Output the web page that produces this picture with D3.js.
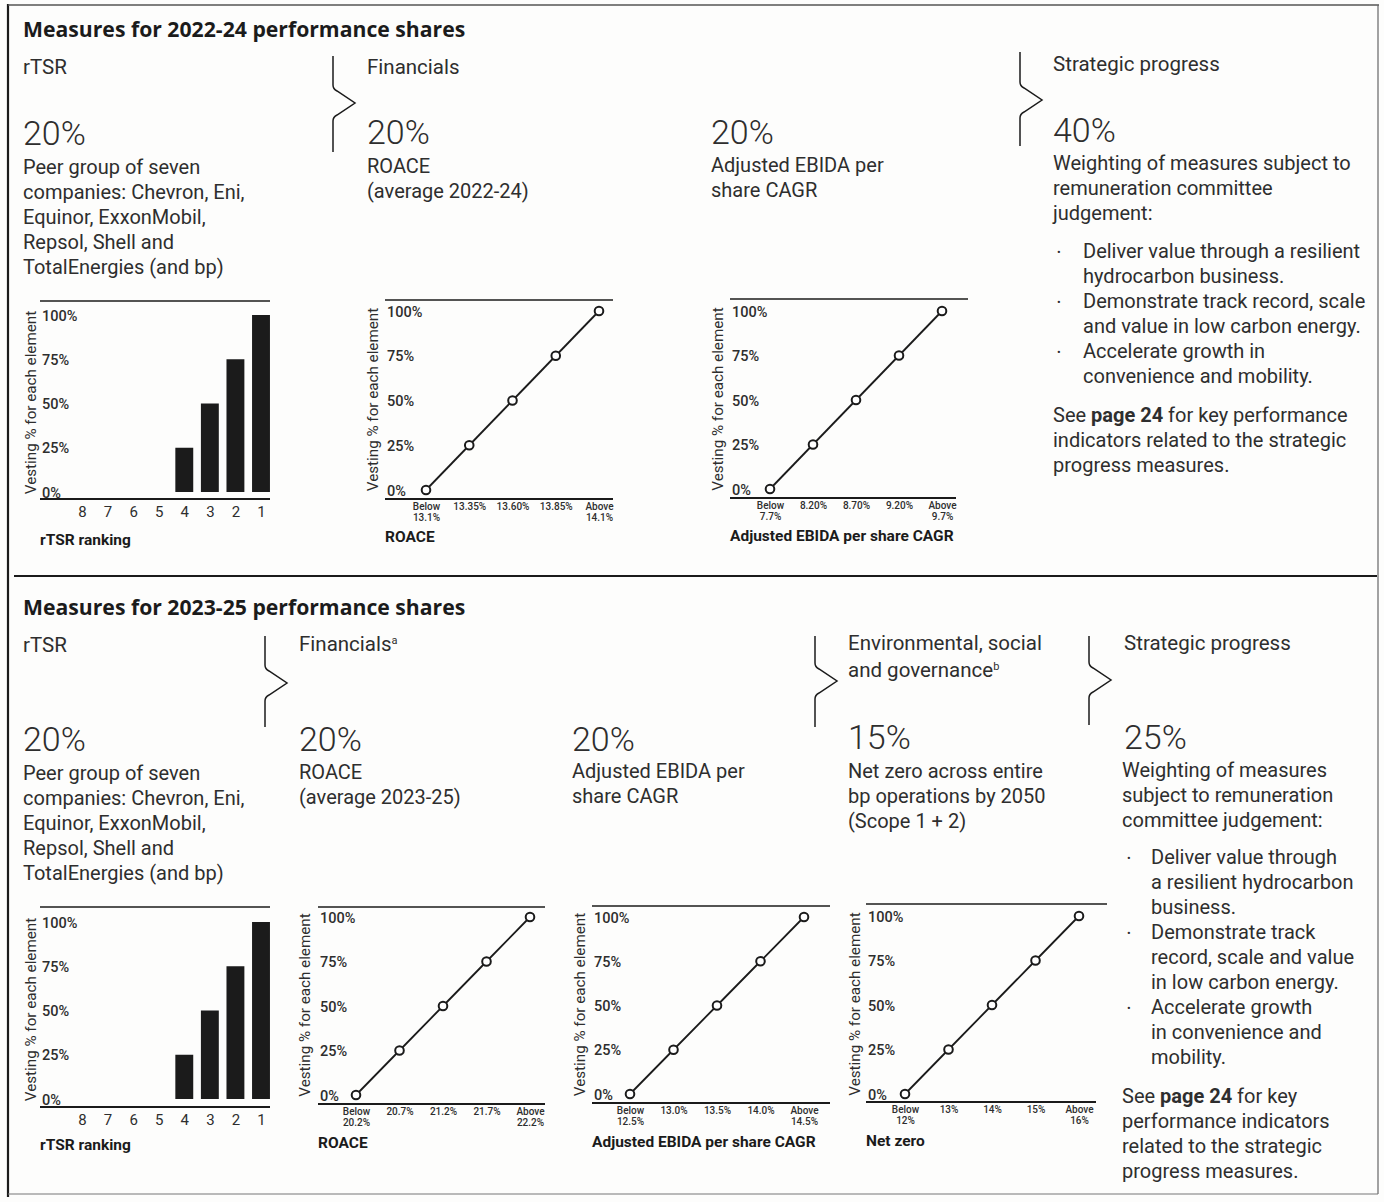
<!DOCTYPE html>
<html>
<head>
<meta charset="utf-8">
<script src="https://cdn.jsdelivr.net/npm/d3@7"></script>
<style>
  html, body { margin: 0; padding: 0; background: #fff; }
  svg { display: block; font-family: Roboto, "Noto Sans", sans-serif; }
</style>
</head>
<body>
<svg id="chart" width="1384" height="1202"></svg>
<script>
// ---------- data ----------
const rtsrRanks = ["8", "7", "6", "5", "4", "3", "2", "1"];
const rtsrVesting = [0, 0, 0, 0, 25, 50, 75, 100];
const vestingTicks = [0, 25, 50, 75, 100];
const stepVesting = [0, 25, 50, 75, 100];

const roace2224Levels = ["Below 13.1%", "13.35%", "13.60%", "13.85%", "Above 14.1%"];
const ebida2224Levels = ["Below 7.7%", "8.20%", "8.70%", "9.20%", "Above 9.7%"];
const roace2325Levels = ["Below 20.2%", "20.7%", "21.2%", "21.7%", "Above 22.2%"];
const ebida2325Levels = ["Below 12.5%", "13.0%", "13.5%", "14.0%", "Above 14.5%"];
const netZeroLevels = ["Below 12%", "13%", "14%", "15%", "Above 16%"];

const weights2224 = ["20%", "20%", "20%", "40%"];
const weights2325 = ["20%", "20%", "20%", "15%", "25%"];

const peerText = ["Peer group of seven", "companies: Chevron, Eni,", "Equinor, ExxonMobil,",
                  "Repsol, Shell and", "TotalEnergies (and bp)"];
const roace2224Text = ["ROACE", "(average 2022-24)"];
const roace2325Text = ["ROACE", "(average 2023-25)"];
const ebidaText = ["Adjusted EBIDA per", "share CAGR"];
const netZeroText = ["Net zero across entire", "bp operations by 2050", "(Scope 1 + 2)"];
const strat2224Text = ["Weighting of measures subject to", "remuneration committee", "judgement:"];
const strat2224Bullets = [["Deliver value through a resilient", "hydrocarbon business."],
                          ["Demonstrate track record, scale", "and value in low carbon energy."],
                          ["Accelerate growth in", "convenience and mobility."]];
const strat2325Text = ["Weighting of measures", "subject to remuneration", "committee judgement:"];
const strat2325Bullets = [["Deliver value through", "a resilient hydrocarbon", "business."],
                          ["Demonstrate track", "record, scale and value", "in low carbon energy."],
                          ["Accelerate growth", "in convenience and", "mobility."]];

// ---------- drawing ----------
const INK = "#1b1b1b";
const TEXT = "#2e2e2e";
const BODY = 20;
const svg = d3.select("#chart");

svg.append("rect").attr("width", 1384).attr("height", 1202).attr("fill", "#fdfdfc");

// page frame and section divider
const frame = svg.append("g").attr("stroke", INK).attr("fill", "none");
frame.append("line").attr("x1", 8).attr("x2", 8).attr("y1", 4).attr("y2", 1197).attr("stroke-width", 2.2);
frame.append("line").attr("x1", 8).attr("x2", 1379).attr("y1", 5).attr("y2", 5).attr("stroke-width", 1.4).attr("stroke", "#555");
frame.append("line").attr("x1", 1378).attr("x2", 1378).attr("y1", 5).attr("y2", 1194).attr("stroke-width", 1.2).attr("stroke", "#666");
frame.append("line").attr("x1", 8).attr("x2", 1378).attr("y1", 1194).attr("y2", 1194).attr("stroke-width", 1.2).attr("stroke", "#777");
frame.append("line").attr("x1", 14).attr("x2", 1377).attr("y1", 576).attr("y2", 576).attr("stroke-width", 2);

function textLines(x, y, lines, opts = {}) {
  const t = svg.append("text")
    .attr("x", x).attr("y", y)
    .attr("font-size", opts.size || BODY)
    .attr("font-weight", opts.weight || 400)
    .attr("fill", opts.fill || TEXT);
  lines.forEach((line, i) => {
    t.append("tspan").attr("x", x).attr("y", y + i * (opts.lh || 25)).text(line);
  });
  return t;
}

function heading(x, y, label, sup) {
  const t = svg.append("text").attr("x", x).attr("y", y)
    .attr("font-size", 20.5).attr("fill", TEXT).text(label);
  if (sup) t.append("tspan").attr("font-size", 11).attr("dy", -7).text(sup);
  return t;
}

function sectionTitle(y, label) {
  svg.append("text").attr("x", 23).attr("y", y)
    .attr("font-family", "'Open Sans', Roboto, sans-serif")
    .attr("font-size", 21.2).attr("font-weight", 700)
    .attr("fill", INK).text(label);
}

function bigNumber(x, y, label) {
  svg.append("text").attr("x", x).attr("y", y)
    .attr("font-size", 34).attr("font-weight", 300).attr("fill", TEXT).text(label);
}

function brace(x, top, bottom, mid) {
  const w = 22, h = 16;
  svg.append("path")
    .attr("d", `M${x},${top} V${mid - h - 2} Q${x},${mid - h + 2} ${x + 4},${mid - h + 4} L${x + w},${mid}
               L${x + 4},${mid + h - 4} Q${x},${mid + h - 2} ${x},${mid + h + 2} V${bottom}`)
    .attr("fill", "none").attr("stroke", INK).attr("stroke-width", 1.5);
}

function bullets(x, textX, y, items, lh) {
  let row = 0;
  items.forEach(item => {
    svg.append("text").attr("x", x).attr("y", y + row * lh - 2)
      .attr("font-size", 11).attr("fill", TEXT).text("•");
    textLines(textX, y + row * lh, item, { lh });
    row += item.length;
  });
  return row;
}

function seePage(x, y, lines) {
  // first line carries the bold page reference
  const t = svg.append("text").attr("x", x).attr("y", y).attr("font-size", BODY).attr("fill", TEXT);
  t.append("tspan").text(lines[0][0]);
  t.append("tspan").attr("font-weight", 700).text(lines[0][1]);
  t.append("tspan").text(lines[0][2]);
  textLines(x, y + 25, lines.slice(1));
}

function vestingFrame(g, cfg, y) {
  g.append("line").attr("x1", cfg.left).attr("x2", cfg.topRight)
    .attr("y1", cfg.top).attr("y2", cfg.top).attr("stroke", INK).attr("stroke-width", 1.6);
  g.append("line").attr("x1", cfg.left).attr("x2", cfg.axisRight)
    .attr("y1", cfg.axisY).attr("y2", cfg.axisY).attr("stroke", INK).attr("stroke-width", 1.8);

  const yAxis = d3.axisRight(y).tickValues(vestingTicks).tickFormat(d => d + "%")
    .tickSize(0).tickPadding(2);
  g.append("g").attr("transform", `translate(${cfg.left},0)`).call(yAxis)
    .call(a => a.select(".domain").remove())
    .attr("font-family", null).attr("font-size", 14.5).attr("font-weight", 500)
    .selectAll("text").attr("fill", TEXT).attr("dy", "0.36em");

  g.append("text")
    .attr("transform", `translate(${cfg.yTitleX},${(cfg.y0 + cfg.y100) / 2 - 1}) rotate(-90)`)
    .attr("text-anchor", "middle").attr("dy", "0.35em")
    .attr("font-size", 15.2).attr("fill", TEXT)
    .text("Vesting % for each element");

  g.append("text").attr("x", cfg.left).attr("y", cfg.titleY)
    .attr("font-size", 15.5).attr("font-weight", 700).attr("fill", INK).text(cfg.title);
}

function rankingChart(cfg) {
  const g = svg.append("g");
  const y = d3.scaleLinear().domain([0, 100]).range([cfg.y0, cfg.y100]);
  const x = d3.scalePoint().domain(rtsrRanks).range([cfg.xFirst, cfg.xLast]);
  const bw = x.step() * 0.7;
  vestingFrame(g, cfg, y);

  g.selectAll("rect.bar").data(rtsrRanks).join("rect")
    .attr("class", "bar")
    .attr("x", d => x(d) - bw / 2)
    .attr("width", bw)
    .attr("y", (d, i) => y(rtsrVesting[i]))
    .attr("height", (d, i) => y(0) - y(rtsrVesting[i]))
    .attr("fill", INK);

  g.append("g").attr("transform", `translate(0,${cfg.axisY})`)
    .call(d3.axisBottom(x).tickSize(0).tickPadding(7))
    .call(a => a.select(".domain").remove())
    .attr("font-family", null).attr("font-size", 15)
    .selectAll("text").attr("fill", TEXT);
}

function stepChart(cfg, levels) {
  const g = svg.append("g");
  const y = d3.scaleLinear().domain([0, 100]).range([cfg.y0, cfg.y100]);
  const x = d3.scalePoint().domain(levels).range([cfg.xFirst, cfg.xLast]);
  vestingFrame(g, cfg, y);

  const line = d3.line().x(d => x(d[0])).y(d => y(d[1]));
  const pts = levels.map((l, i) => [l, stepVesting[i]]);
  g.append("path").datum(pts).attr("d", line)
    .attr("fill", "none").attr("stroke", INK).attr("stroke-width", 1.8);
  g.selectAll("circle").data(pts).join("circle")
    .attr("cx", d => x(d[0])).attr("cy", d => y(d[1])).attr("r", 4.3)
    .attr("fill", "#fff").attr("stroke", INK).attr("stroke-width", 2);

  const ax = g.append("g").attr("transform", `translate(0,${cfg.axisY})`)
    .call(d3.axisBottom(x).tickSize(0).tickPadding(4))
    .call(a => a.select(".domain").remove())
    .attr("font-family", null).attr("font-size", 10)
    .attr("font-weight", 500);
  ax.selectAll(".tick text").each(function (d) {
    const parts = /^(Below|Above) /.test(d) ? d.split(" ") : [d];
    const t = d3.select(this).text(null).attr("fill", TEXT);
    parts.forEach((p, i) => {
      t.append("tspan").attr("x", 0).attr("dy", i === 0 ? "0.71em" : "1.1em").text(p);
    });
  });
}

// ---------- 2022-24 ----------
sectionTitle(37, "Measures for 2022-24 performance shares");

heading(23, 74, "rTSR");
heading(367, 74, "Financials");
heading(1053, 71, "Strategic progress");
brace(333, 56, 152, 103);
brace(1020, 52, 146, 100);

bigNumber(23, 145, weights2224[0]);
bigNumber(367, 144, weights2224[1]);
bigNumber(711, 144, weights2224[2]);
bigNumber(1053, 142, weights2224[3]);

textLines(23, 174, peerText);
textLines(367, 173, roace2224Text);
textLines(711, 172, ebidaText);
textLines(1053, 170, strat2224Text);
bullets(1057, 1083, 258, strat2224Bullets, 25);
seePage(1053, 422, [["See ", "page 24", " for key performance"],
                    "indicators related to the strategic", "progress measures."]);

rankingChart({ left: 40, topRight: 270, axisRight: 270, top: 301, axisY: 499,
               y0: 492, y100: 315, xFirst: 82, xLast: 261, yTitleX: 31,
               titleY: 545, title: "rTSR ranking" });
stepChart({ left: 385, topRight: 613, axisRight: 613, top: 300, axisY: 499,
            y0: 490, y100: 311, xFirst: 426, xLast: 599, yTitleX: 373,
            titleY: 542, title: "ROACE" }, roace2224Levels);
stepChart({ left: 730, topRight: 968, axisRight: 956, top: 299, axisY: 498,
            y0: 489, y100: 311, xFirst: 770, xLast: 942, yTitleX: 718,
            titleY: 541, title: "Adjusted EBIDA per share CAGR" }, ebida2224Levels);

// ---------- 2023-25 ----------
sectionTitle(615, "Measures for 2023-25 performance shares");

heading(23, 652, "rTSR");
heading(299, 651, "Financials", "a");
heading(848, 650, "Environmental, social");
heading(848, 677, "and governance", "b");
heading(1124, 650, "Strategic progress");
brace(265, 636, 727, 683);
brace(815, 636, 727, 681);
brace(1089, 636, 725, 680);

bigNumber(23, 751, weights2325[0]);
bigNumber(299, 751, weights2325[1]);
bigNumber(572, 751, weights2325[2]);
bigNumber(848, 749, weights2325[3]);
bigNumber(1124, 749, weights2325[4]);

textLines(23, 780, peerText);
textLines(299, 779, roace2325Text);
textLines(572, 778, ebidaText);
textLines(848, 778, netZeroText);
textLines(1122, 777, strat2325Text);
bullets(1127, 1151, 864, strat2325Bullets, 25);
seePage(1122, 1103, [["See ", "page 24", " for key"],
                     "performance indicators", "related to the strategic", "progress measures."]);

rankingChart({ left: 40, topRight: 270, axisRight: 270, top: 907, axisY: 1107,
               y0: 1099, y100: 922, xFirst: 82, xLast: 261, yTitleX: 31,
               titleY: 1150, title: "rTSR ranking" });
stepChart({ left: 318, topRight: 545, axisRight: 545, top: 907, axisY: 1104,
            y0: 1095, y100: 917, xFirst: 356, xLast: 530, yTitleX: 305,
            titleY: 1148, title: "ROACE" }, roace2325Levels);
stepChart({ left: 592, topRight: 830, axisRight: 830, top: 906, axisY: 1103,
            y0: 1094, y100: 917, xFirst: 630, xLast: 804, yTitleX: 580,
            titleY: 1147, title: "Adjusted EBIDA per share CAGR" }, ebida2325Levels);
stepChart({ left: 866, topRight: 1107, axisRight: 1096, top: 904, axisY: 1102,
            y0: 1094, y100: 916, xFirst: 905, xLast: 1079, yTitleX: 855,
            titleY: 1146, title: "Net zero" }, netZeroLevels);
</script>
</body>
</html>
